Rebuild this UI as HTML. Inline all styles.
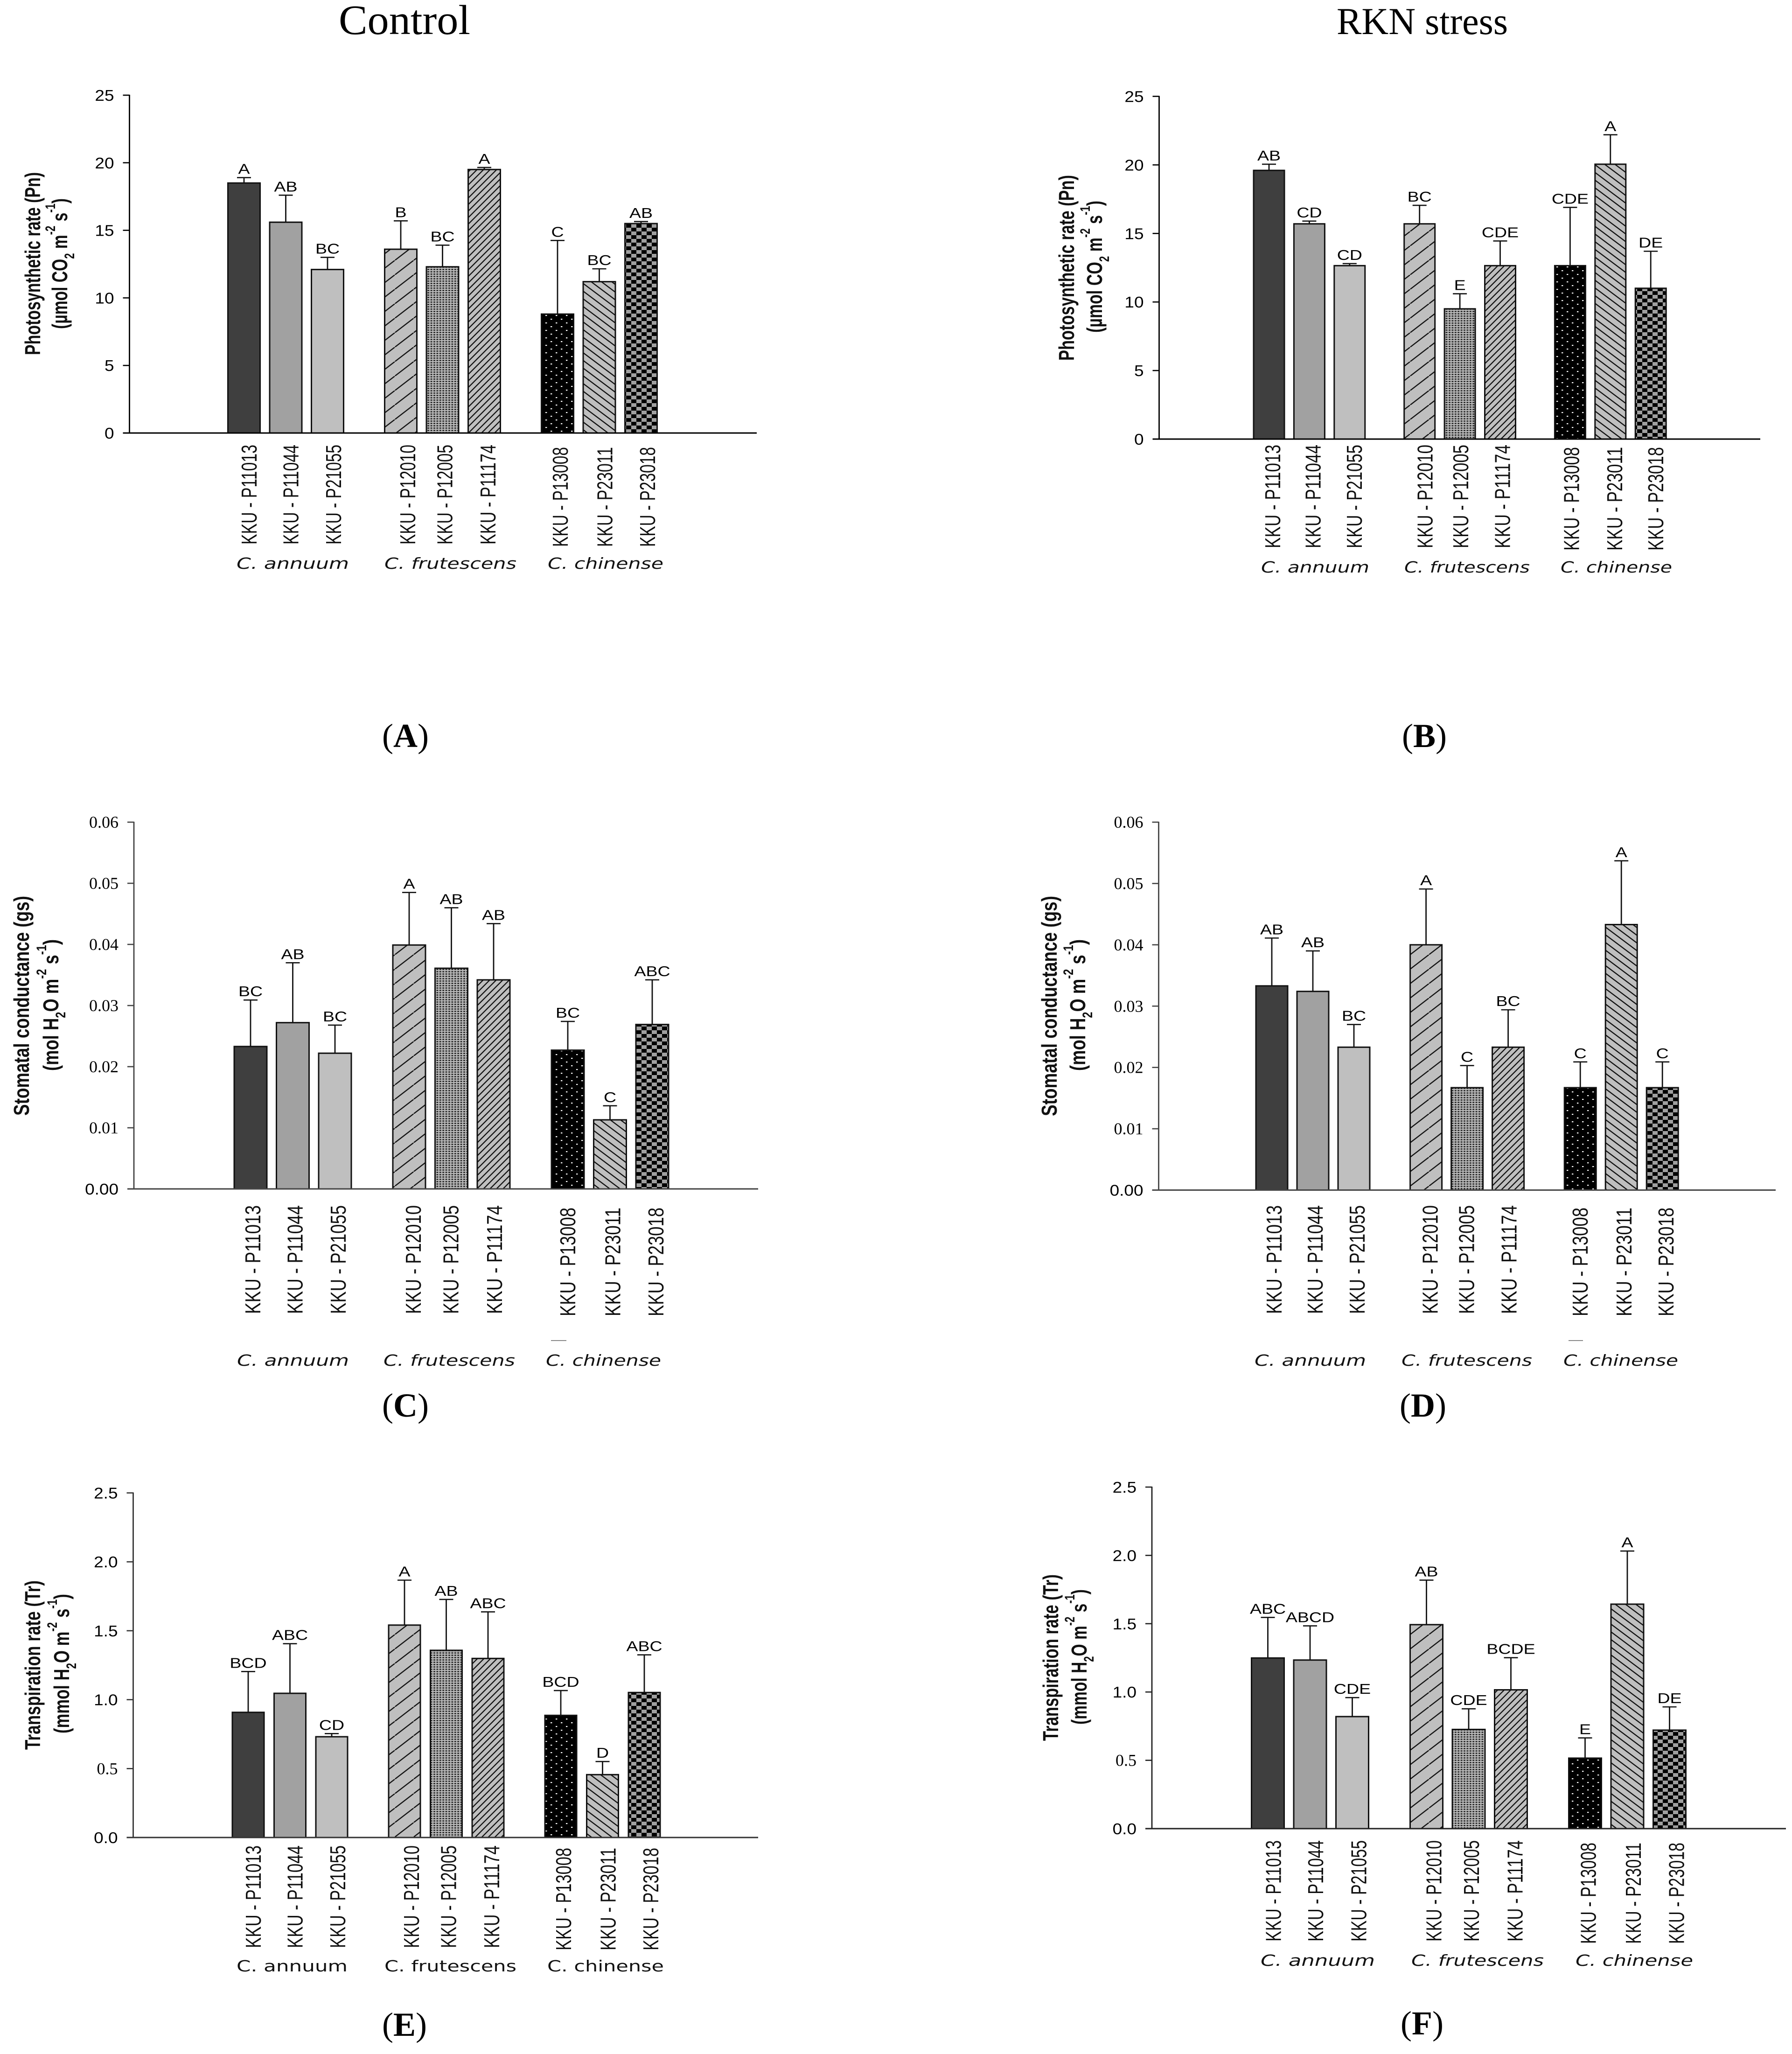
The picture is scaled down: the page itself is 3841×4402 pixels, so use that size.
<!DOCTYPE html>
<html lang="en">
<head>
<meta charset="utf-8">
<title>Photosynthesis, stomatal conductance and transpiration of Capsicum accessions</title>
<style>
html,body{margin:0;padding:0;background:#fff;width:3841px;height:4402px;overflow:hidden}
svg{display:block}
text{fill:#000}
.sans{font-family:"Liberation Sans",Arial,sans-serif}
.serif{font-family:"Liberation Serif","Times New Roman",serif}
.ytitle{font-family:"Liberation Sans",Arial,sans-serif;font-weight:bold;font-size:46px;fill:#111}
.cap{font-family:"Liberation Serif","Times New Roman",serif;font-size:72px}
</style>
</head>
<body>
<svg id="figure" xmlns="http://www.w3.org/2000/svg" width="3841" height="4402" viewBox="0 0 3841 4402">
<defs>
  <pattern id="fill-wide-up" patternUnits="userSpaceOnUse" width="40.3" height="31">
    <rect width="40.3" height="31" fill="#bfbfbf"/>
    <path d="M-4 34.1L44.3 -3.1" stroke="#111" stroke-width="2.4" fill="none"/>
  </pattern>
  <pattern id="fill-fine-dots" patternUnits="userSpaceOnUse" width="6.4" height="5">
    <rect width="6.4" height="5" fill="#bdbdbd"/>
    <rect x="1" y="1" width="4" height="3" fill="#333"/>
  </pattern>
  <pattern id="fill-dense-up" patternUnits="userSpaceOnUse" width="14" height="14">
    <rect width="14" height="14" fill="#bfbfbf"/>
    <path d="M-2 16L16 -2M-2 2L2 -2M12 16L16 12" stroke="#111" stroke-width="2.3" fill="none"/>
  </pattern>
  <pattern id="fill-black-dots" patternUnits="userSpaceOnUse" width="22" height="16">
    <rect width="22" height="16" fill="#000"/>
    <rect x="3" y="3" width="3.4" height="2.2" fill="#fff"/>
    <rect x="14" y="11" width="3.4" height="2.2" fill="#fff"/>
  </pattern>
  <pattern id="fill-down" patternUnits="userSpaceOnUse" width="22" height="16.5">
    <rect width="22" height="16.5" fill="#bfbfbf"/>
    <path d="M-3 -2.25L25 18.75M-3 14.25L3 18.75M19 -2.25L25 2.25" stroke="#111" stroke-width="2.4" fill="none"/>
  </pattern>
  <pattern id="fill-checker" patternUnits="userSpaceOnUse" width="22" height="16">
    <rect width="22" height="16" fill="#9f9f9f"/>
    <rect width="11" height="8" fill="#000"/>
    <rect x="11" y="8" width="11" height="8" fill="#000"/>
  </pattern>
</defs>
<rect width="3841" height="4402" fill="#fff"/>

<text class="serif" x="726" y="73" font-size="90" textLength="282" lengthAdjust="spacingAndGlyphs">Control</text>
<text class="serif" x="2865" y="73" font-size="82" textLength="367" lengthAdjust="spacingAndGlyphs">RKN stress</text>

<g id="panel-a">
  <text class="ytitle" transform="translate(86,761) rotate(-90)" textLength="392" lengthAdjust="spacingAndGlyphs">Photosynthetic rate (Pn)</text>
  <text class="ytitle" transform="translate(144,705) rotate(-90)" textLength="280" lengthAdjust="spacingAndGlyphs">(µmol CO<tspan dy="15" font-size="30">2</tspan><tspan dy="-15"> m</tspan><tspan dy="-26" font-size="30">-2</tspan><tspan dy="26"> s</tspan><tspan dy="-26" font-size="30">-1</tspan><tspan dy="26">)</tspan></text>
</g>
<g id="panel-b">
  <text class="ytitle" transform="translate(2302,773) rotate(-90)" textLength="398" lengthAdjust="spacingAndGlyphs">Photosynthetic rate (Pn)</text>
  <text class="ytitle" transform="translate(2362,713) rotate(-90)" textLength="283" lengthAdjust="spacingAndGlyphs">(µmol CO<tspan dy="15" font-size="30">2</tspan><tspan dy="-15"> m</tspan><tspan dy="-26" font-size="30">-2</tspan><tspan dy="26"> s</tspan><tspan dy="-26" font-size="30">-1</tspan><tspan dy="26">)</tspan></text>
</g>
<g id="panel-c">
  <text class="ytitle" transform="translate(62,2391) rotate(-90)" textLength="471" lengthAdjust="spacingAndGlyphs">Stomatal conductance (gs)</text>
  <text class="ytitle" transform="translate(125,2295) rotate(-90)" textLength="282" lengthAdjust="spacingAndGlyphs">(mol H<tspan dy="15" font-size="30">2</tspan><tspan dy="-15">O m</tspan><tspan dy="-26" font-size="30">-2</tspan><tspan dy="26"> s</tspan><tspan dy="-26" font-size="30">-1</tspan><tspan dy="26">)</tspan></text>
</g>
<g id="panel-d">
  <text class="ytitle" transform="translate(2265,2392) rotate(-90)" textLength="472" lengthAdjust="spacingAndGlyphs">Stomatal conductance (gs)</text>
  <text class="ytitle" transform="translate(2326,2295) rotate(-90)" textLength="282" lengthAdjust="spacingAndGlyphs">(mol H<tspan dy="15" font-size="30">2</tspan><tspan dy="-15">O m</tspan><tspan dy="-26" font-size="30">-2</tspan><tspan dy="26"> s</tspan><tspan dy="-26" font-size="30">-1</tspan><tspan dy="26">)</tspan></text>
</g>
<g id="panel-e">
  <text class="ytitle" transform="translate(86,3750) rotate(-90)" textLength="363" lengthAdjust="spacingAndGlyphs">Transpiration rate (Tr)</text>
  <text class="ytitle" transform="translate(148,3715) rotate(-90)" textLength="299" lengthAdjust="spacingAndGlyphs">(mmol H<tspan dy="15" font-size="30">2</tspan><tspan dy="-15">O m</tspan><tspan dy="-26" font-size="30">-2</tspan><tspan dy="26"> s</tspan><tspan dy="-26" font-size="30">-1</tspan><tspan dy="26">)</tspan></text>
</g>
<g id="panel-f">
  <text class="ytitle" transform="translate(2268,3731) rotate(-90)" textLength="357" lengthAdjust="spacingAndGlyphs">Transpiration rate (Tr)</text>
  <text class="ytitle" transform="translate(2329,3696) rotate(-90)" textLength="290" lengthAdjust="spacingAndGlyphs">(mmol H<tspan dy="15" font-size="30">2</tspan><tspan dy="-15">O m</tspan><tspan dy="-26" font-size="30">-2</tspan><tspan dy="26"> s</tspan><tspan dy="-26" font-size="30">-1</tspan><tspan dy="26">)</tspan></text>
</g>

<text class="cap" x="869" y="1601" text-anchor="middle">(<tspan font-weight="bold">A</tspan>)</text>
<text class="cap" x="3053" y="1601" text-anchor="middle">(<tspan font-weight="bold">B</tspan>)</text>
<text class="cap" x="869" y="3036" text-anchor="middle">(<tspan font-weight="bold">C</tspan>)</text>
<text class="cap" x="3050" y="3036" text-anchor="middle">(<tspan font-weight="bold">D</tspan>)</text>
<text class="cap" x="867" y="4363" text-anchor="middle">(<tspan font-weight="bold">E</tspan>)</text>
<text class="cap" x="3048" y="4360" text-anchor="middle">(<tspan font-weight="bold">F</tspan>)</text>
</svg>

<script>
const categories = ['KKU - P11013','KKU - P11044','KKU - P21055','KKU - P12010','KKU - P12005','KKU - P11174','KKU - P13008','KKU - P23011','KKU - P23018'];
const speciesNames = ['C. annuum','C. frutescens','C. chinense'];

const tickLabelsPn = ['0','5','10','15','20','25'];
const tickLabelsGs = ['0.00','0.01','0.02','0.03','0.04','0.05','0.06'];
const tickLabelsTr = ['0.0','0.5','1.0','1.5','2.0','2.5'];

const valuesA = [18.5,15.6,12.1,13.6,12.3,19.5,8.8,11.2,15.5];
const errorTopsA = [18.9,17.6,13.0,15.7,13.9,19.65,14.25,12.15,15.65];
const lettersA = ['A','AB','BC','B','BC','A','C','BC','AB'];

const valuesB = [19.6,15.7,12.65,15.7,9.5,12.65,12.65,20.05,11.0];
const errorTopsB = [20.05,15.9,12.8,17.05,10.6,14.45,16.9,22.2,13.7];
const lettersB = ['AB','CD','CD','BC','E','CDE','CDE','A','DE'];

const valuesC = [0.0233,0.0272,0.0222,0.0399,0.0361,0.0342,0.0227,0.0113,0.0269];
const errorTopsC = [0.0309,0.037,0.0268,0.0485,0.046,0.0434,0.0274,0.0136,0.0342];
const lettersC = ['BC','AB','BC','A','AB','AB','BC','C','ABC'];

const valuesD = [0.0333,0.0324,0.0233,0.04,0.0167,0.0233,0.0167,0.0433,0.0167];
const errorTopsD = [0.0411,0.039,0.027,0.0491,0.0203,0.0294,0.0209,0.0537,0.0209];
const lettersD = ['AB','AB','BC','A','C','BC','C','A','C'];

const valuesE = [0.908,1.046,0.731,1.541,1.358,1.299,0.886,0.456,1.052];
const errorTopsE = [1.204,1.406,0.754,1.867,1.727,1.637,1.066,0.551,1.325];
const lettersE = ['BCD','ABC','CD','A','AB','ABC','BCD','D','ABC'];

const valuesF = [1.249,1.234,0.82,1.493,0.726,1.016,0.516,1.643,0.721];
const errorTopsF = [1.546,1.484,0.959,1.819,0.877,1.251,0.664,2.032,0.891];
const lettersF = ['ABC','ABCD','CDE','AB','CDE','BCDE','E','A','DE'];

const barFills = ['#3f3f3f','#a1a1a1','#bfbfbf','url(#fill-wide-up)','url(#fill-fine-dots)','url(#fill-dense-up)','url(#fill-black-dots)','url(#fill-down)','url(#fill-checker)'];
const labelNudge = [0,0,2,4,-6,-3,-5,1,3];

const panels = [
  {id:'panel-a',values:valuesA,errorTops:errorTopsA,letters:lettersA,ticks:tickLabelsPn,yMax:25,axisX:277.5,yZero:928,yTop:204,xEnd:1622,x0:523,step:89.5,gap:67.5,barW:72,labelDx:12,labelBottom:1167,labelLen:214,speciesBase:1219,speciesSpan:[[507,748],[824,1107],[1174,1422]],italic:true,serifTicks:[],axisColor:'#000'},
  {id:'panel-b',values:valuesB,errorTops:errorTopsB,letters:lettersB,ticks:tickLabelsPn,yMax:25,axisX:2484.5,yZero:941,yTop:206.5,xEnd:3773,x0:2720,step:86.4,gap:63.5,barW:69,labelDx:9,labelBottom:1175,labelLen:222,speciesBase:1227,speciesSpan:[[2703,2935],[3010,3279],[3345,3584]],italic:true,serifTicks:[],axisColor:'#000'},
  {id:'panel-c',values:valuesC,errorTops:errorTopsC,letters:lettersC,ticks:tickLabelsGs,yMax:0.06,axisX:287,yZero:2548,yTop:1762,xEnd:1625,x0:537,step:90.5,gap:68.5,barW:73,labelDx:6,labelBottom:2816,labelLen:233,speciesBase:2927,speciesSpan:[[508,748],[822,1104],[1170,1417]],italic:true,serifTicks:['0.01','0.02','0.03','0.04','0.05','0.06'],axisColor:'#444',dash:[1181,1214]},
  {id:'panel-d',values:valuesD,errorTops:errorTopsD,letters:lettersD,ticks:tickLabelsGs,yMax:0.06,axisX:2483.5,yZero:2550.5,yTop:1762,xEnd:3806,x0:2726,step:88,gap:66.6,barW:71,labelDx:6,labelBottom:2816,labelLen:233,speciesBase:2927,speciesSpan:[[2689,2928],[3004,3284],[3351,3597]],italic:true,serifTicks:['0.01','0.02','0.03','0.04','0.05','0.06'],axisColor:'#444',dash:[3362,3393]},
  {id:'panel-e',values:valuesE,errorTops:errorTopsE,letters:lettersE,ticks:tickLabelsTr,yMax:2.5,axisX:285.5,yZero:3938,yTop:3199.5,xEnd:1625,x0:532,step:89.5,gap:66.5,barW:71,labelDx:12,labelBottom:4175,labelLen:220,speciesBase:4225,speciesSpan:[[507,745],[824,1107],[1173,1423]],italic:false,serifTicks:['0.5'],axisColor:'#333'},
  {id:'panel-f',values:valuesF,errorTops:errorTopsF,letters:lettersF,ticks:tickLabelsTr,yMax:2.5,axisX:2469,yZero:3919,yTop:3187,xEnd:3828,x0:2717.5,step:90.5,gap:68.5,barW:73,labelDx:13,labelBottom:4161,labelLen:217,speciesBase:4213,speciesSpan:[[2702,2947],[3025,3309],[3377,3629]],italic:true,serifTicks:['0.5'],axisColor:'#222'}
];

const SVG_NS = 'http://www.w3.org/2000/svg';

function make(tag, parent, attrs) {
  const node = document.createElementNS(SVG_NS, tag);
  for (const k in attrs) node.setAttribute(k, attrs[k]);
  parent.appendChild(node);
  return node;
}

function yScale(p, v) {
  return p.yZero - (v / p.yMax) * (p.yZero - p.yTop);
}

function xScale(p, i) {
  return p.x0 + p.step * i + p.gap * Math.floor(i / 3);
}

panels.forEach(function (p) {
  const root = document.getElementById(p.id);

  p.values.forEach(function (value, i) {
    const cx = xScale(p, i);
    const top = yScale(p, value);
    const errY = yScale(p, p.errorTops[i]);

    const stem = make('line', root, {x1: cx, x2: cx, y1: top, y2: errY, stroke: '#111', 'stroke-width': 2.8});
    
    

    const cap = make('line', root, {x1: cx - 15, x2: cx + 15, y1: errY, y2: errY, stroke: '#111', 'stroke-width': 2.6});
    
    

    const bar = make('rect', root, {x: cx - p.barW / 2 + 1.5, y: top, width: p.barW - 3, height: p.yZero - top, fill: barFills[i], stroke: '#111', 'stroke-width': 3});
    
    

    const letter = make('text', root, {class: 'sans', 'text-anchor': 'middle', 'font-size': 31, transform: 'translate(' + cx + ',' + (errY - 8) + ') scale(1.21,1)'});
    letter.textContent = p.letters[i];
    
    

    const group = Math.floor(i / 3);
    const labelX = cx + p.labelDx + labelNudge[i] + 15;
    const labelY = p.labelBottom + (group === 2 ? 5 : 0);
    const label = make('text', root, {class: 'sans', 'font-size': 46, textLength: p.labelLen, lengthAdjust: 'spacingAndGlyphs', transform: 'translate(' + labelX + ',' + labelY + ') rotate(-90)', style: 'fill:#111'});
    label.textContent = categories[i];
    
    
  });

  const yAxis = make('line', root, {x1: p.axisX, x2: p.axisX, y1: p.yTop - 1, y2: p.yZero, stroke: p.axisColor, 'stroke-width': 2.8});
  
  

  const xAxis = make('line', root, {x1: p.axisX - 14, x2: p.xEnd, y1: p.yZero, y2: p.yZero, stroke: p.axisColor, 'stroke-width': 3});
  
  

  p.ticks.forEach(function (tick) {
    const y = yScale(p, parseFloat(tick));

    const mark = make('line', root, {x1: p.axisX - 14, x2: p.axisX, y1: y, y2: y, stroke: p.axisColor, 'stroke-width': 2.6});
    
    

    const isSerif = p.serifTicks.indexOf(tick) >= 0;
    const tickText = make('text', root, {
      class: isSerif ? 'serif' : 'sans',
      'text-anchor': 'end',
      'font-size': isSerif ? 36 : 33,
      transform: 'translate(' + (p.axisX - 33) + ',' + (y + 12) + ') scale(' + (isSerif ? 1 : 1.12) + ',1)'
    });
    tickText.textContent = tick;
    
    
  });

  speciesNames.forEach(function (name, g) {
    const span = p.speciesSpan[g];
    const species = make('text', root, {x: span[0], y: p.speciesBase, 'font-size': 33, textLength: span[1] - span[0], lengthAdjust: 'spacingAndGlyphs', 'font-family': '"DejaVu Sans", Verdana, sans-serif', 'font-style': p.italic ? 'italic' : 'normal', style: 'fill:#111'});
    species.textContent = name;
    
    
  });

  if (p.dash) {
    const dash = make('line', root, {x1: p.dash[0], x2: p.dash[1], y1: 2873, y2: 2873, stroke: '#888', 'stroke-width': 2});
    
    
  }
});
</script>
</body>
</html>
